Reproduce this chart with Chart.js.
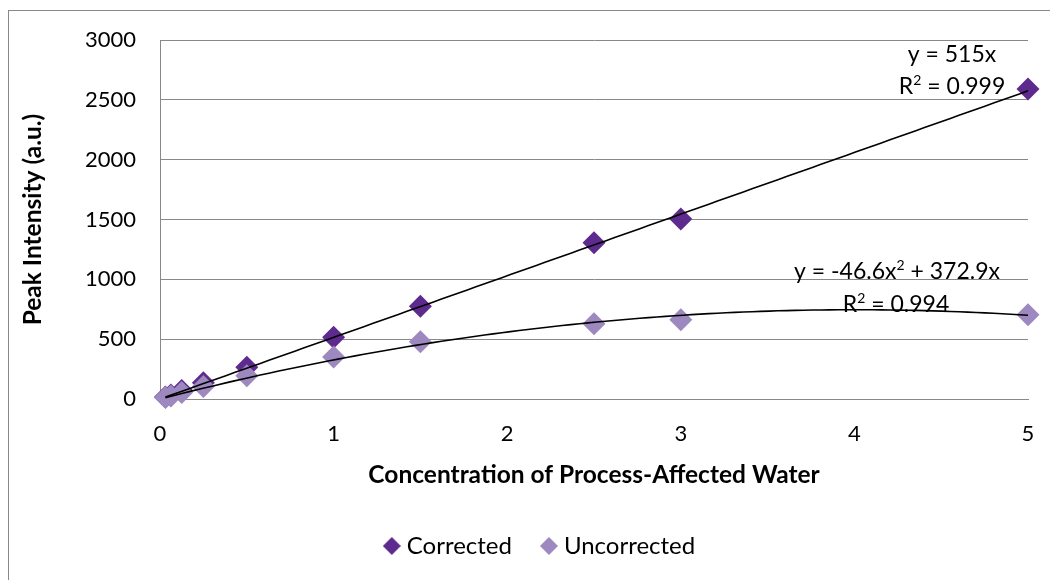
<!DOCTYPE html>
<html>
<head>
<meta charset="utf-8">
<script src="https://cdn.jsdelivr.net/npm/chart.js@4.4.1/dist/chart.umd.min.js"></script>
<style>
  html, body { margin: 0; padding: 0; background: #ffffff; }
  #wrap { width: 1050px; height: 580px; position: relative; }
</style>
</head>
<body>
<div id="wrap"><canvas id="c" width="1050" height="580"></canvas></div>
<script>
// ---- data ----
const concentrations = [0.03125, 0.0625, 0.125, 0.25, 0.5, 1, 1.5, 2.5, 3, 5];
const correctedValues = [16, 33, 70, 135, 265, 515, 775, 1305, 1505, 2590];
const uncorrectedValues = [12, 25, 55, 105, 195, 350, 478, 628, 662, 705];
const xTicks = [0, 1, 2, 3, 4, 5];
const yTicks = [0, 500, 1000, 1500, 2000, 2500, 3000];
// trendline coefficients as printed on the chart (c0, c1, c2)
const correctedTrendCoef = [0, 515];
const uncorrectedTrendCoef = [0, 372.9, -46.6];
// equation labels: segments [text, isSuperscript]
const correctedEquation = [[["y = 515x", false]], [["R", false], ["2", true], [" = 0.999", false]]];
const uncorrectedEquation = [[["y = -46.6x", false], ["2", true], [" + 372.9x", false]], [["R", false], ["2", true], [" = 0.994", false]]];
const seriesNames = ["Corrected", "Uncorrected"];

const DARK = '#5f2a8e';
const LIGHT = '#9d88bf';
const GRID = '#888888';
const FONT = 'Lato, "Open Sans", sans-serif';

function trendPoints(coef) {
  const xmin = concentrations[0], xmax = concentrations[concentrations.length - 1];
  const pts = [];
  const n = 100;
  for (let i = 0; i <= n; i++) {
    const x = xmin + (xmax - xmin) * i / n;
    let y = 0;
    coef.forEach((c, k) => { y += c * Math.pow(x, k); });
    pts.push({x, y});
  }
  return pts;
}
const toXY = (vals) => concentrations.map((x, i) => ({x, y: vals[i]}));

function diamondIcon(color) {
  const c = document.createElement('canvas');
  c.width = 18; c.height = 18;
  const g = c.getContext('2d');
  g.fillStyle = color;
  g.beginPath();
  g.moveTo(9, 0); g.lineTo(18, 9); g.lineTo(9, 18); g.lineTo(0, 9);
  g.closePath(); g.fill();
  return c;
}
const legendIcons = [diamondIcon(DARK), diamondIcon(LIGHT)];

const borderPlugin = {
  id: 'outerBorder',
  beforeDraw(chart) {
    const ctx = chart.ctx;
    ctx.save();
    ctx.strokeStyle = GRID;
    ctx.lineWidth = 1;
    ctx.strokeRect(8.5, 10.5, 1200, 800);
    ctx.restore();
  }
};

// shift legend row to match the reference's horizontal placement
const legendShift = {
  id: 'legendShift',
  afterLayout(chart) {
    if (chart.legend) { chart.legend.left += 24; chart.legend.right += 24; }
  }
};

function drawRich(ctx, segs, cx, baseline, size) {
  const big = size + 'px ' + FONT;
  const small = Math.round(size * 0.62) + 'px ' + FONT;
  let total = 0;
  segs.forEach(([t, sup]) => { ctx.font = sup ? small : big; total += ctx.measureText(t).width; });
  let x = cx - total / 2;
  segs.forEach(([t, sup]) => {
    ctx.font = sup ? small : big;
    ctx.fillText(t, x, sup ? baseline - size * 0.38 : baseline);
    x += ctx.measureText(t).width;
  });
}

const eqPlugin = {
  id: 'equations',
  afterDatasetsDraw(chart) {
    const ctx = chart.ctx;
    ctx.save();
    ctx.fillStyle = '#000';
    ctx.textAlign = 'left';
    ctx.textBaseline = 'alphabetic';
    drawRich(ctx, correctedEquation[0], 952, 62, 23);
    drawRich(ctx, correctedEquation[1], 952, 94, 23);
    drawRich(ctx, uncorrectedEquation[0], 897, 279, 23);
    drawRich(ctx, uncorrectedEquation[1], 896, 312, 23);
    ctx.restore();
  }
};

new Chart(document.getElementById('c'), {
  type: 'scatter',
  data: {
    datasets: [
      {
        label: seriesNames[0],
        data: toXY(correctedValues),
        pointStyle: 'rectRot',
        pointRadius: 11.5,
        pointHoverRadius: 11.5,
        backgroundColor: DARK,
        borderColor: DARK,
        borderWidth: 0,
        order: 3,
        clip: false
      },
      {
        label: seriesNames[1],
        data: toXY(uncorrectedValues),
        pointStyle: 'rectRot',
        pointRadius: 11.5,
        pointHoverRadius: 11.5,
        backgroundColor: LIGHT,
        borderColor: LIGHT,
        borderWidth: 0,
        order: 2,
        clip: false
      },
      {
        label: 'Corrected trend',
        data: trendPoints(correctedTrendCoef),
        type: 'line',
        showLine: true,
        borderColor: '#000',
        borderWidth: 1.6,
        pointRadius: 0,
        fill: false,
        order: 1,
        clip: false
      },
      {
        label: 'Uncorrected trend',
        data: trendPoints(uncorrectedTrendCoef),
        type: 'line',
        showLine: true,
        borderColor: '#000',
        borderWidth: 1.6,
        pointRadius: 0,
        fill: false,
        order: 0,
        clip: false
      }
    ]
  },
  options: {
    responsive: false,
    animation: false,
    events: [],
    layout: { padding: { left: 8, right: 22, top: 40, bottom: 12 } },
    plugins: {
      legend: {
        display: true,
        position: 'bottom',
        labels: {
          filter: (item) => seriesNames.includes(item.text),
          sort: (a, b) => a.datasetIndex - b.datasetIndex,
          generateLabels: (chart) => {
            const items = Chart.defaults.plugins.legend.labels.generateLabels(chart);
            items.forEach(it => { if (legendIcons[it.datasetIndex]) it.pointStyle = legendIcons[it.datasetIndex]; });
            return items;
          },
          usePointStyle: true,
          pointStyleWidth: 6,
          boxHeight: 13,
          color: '#000',
          font: { family: FONT, size: 24 },
          padding: 34
        }
      },
      tooltip: { enabled: false }
    },
    scales: {
      x: {
        type: 'linear',
        min: 0, max: 5,
        afterBuildTicks: (s) => { s.ticks = xTicks.map(v => ({value: v})); },
        border: { display: true, color: GRID, width: 1 },
        grid: { display: false, drawTicks: false },
        ticks: { color: '#000', font: { family: FONT, size: 22 }, padding: 22, callback: (v) => String(v) },
        title: {
          display: true,
          text: 'Concentration of Process-Affected Water',
          color: '#000',
          font: { family: FONT, size: 24.5, weight: 'bold' },
          padding: { top: 10, bottom: 10 }
        },
        afterFit: (s) => { s.height = 101; s.paddingLeft = 0; s.paddingRight = 0; }
      },
      y: {
        type: 'linear',
        min: 0, max: 3000,
        afterBuildTicks: (s) => { s.ticks = yTicks.map(v => ({value: v})); },
        border: { display: true, color: GRID, width: 1 },
        grid: { display: true, color: GRID, lineWidth: 1, drawTicks: false },
        ticks: { color: '#000', font: { family: FONT, size: 22 }, padding: 24, callback: (v) => String(v) },
        title: {
          display: true,
          text: 'Peak Intensity (a.u.)',
          color: '#000',
          font: { family: FONT, size: 24.5, weight: 'bold' },
          padding: { top: 10, bottom: 0 }
        },
        afterFit: (s) => { s.width = 152; s.paddingTop = 0; s.paddingBottom = 0; }
      }
    }
  },
  plugins: [borderPlugin, legendShift, eqPlugin]
});
</script>
</body>
</html>
